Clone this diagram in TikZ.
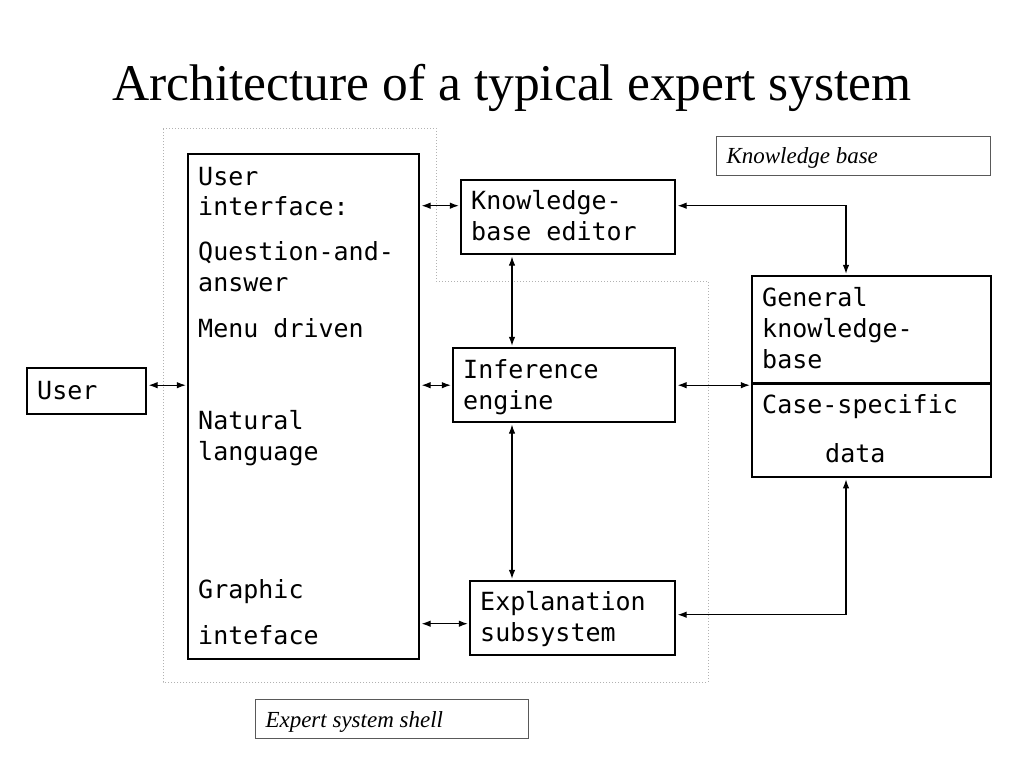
\documentclass[tikz,border=0pt]{standalone}
\usepackage{fontspec}
\setmainfont{Liberation Serif}
\setmonofont{DejaVu Sans Mono}
\usetikzlibrary{positioning,shapes,arrows.meta}

\newcommand{\topstrut}[1]{\rule{0pt}{#1}}
\newcommand{\botstrut}[1]{\rule[-#1]{0pt}{#1}}
\DeclareRobustCommand{\boxfont}{\ttfamily\fontsize{25}{31}\selectfont}

\begin{document}
\begin{tikzpicture}[x=1pt, y=-1pt,
	box/.style={rectangle, draw=black, line width=2.4pt, anchor=north west, align=flush left, inner xsep=10pt, inner ysep=0pt, font=\boxfont},
	tag/.style={rectangle, draw=black!65, line width=1pt, anchor=north west, align=flush left, inner xsep=10pt, inner ysep=0pt, font=\itshape\fontsize{23}{27}\selectfont},
	biarrow/.style={{Latex[length=9pt,width=6.5pt]}-{Latex[length=9pt,width=6.5pt]}, line width=1.1pt, shorten <=1.2pt, shorten >=1.2pt},
	shell/.style={draw=black!30, line width=1pt, dotted}]
	\useasboundingbox (0,0) rectangle (1024,768);
	\fill[white] (0,0) rectangle (1024,768);

	% title
	\node (title) [anchor=base, font=\fontsize{51.5}{60}\selectfont] at (512,100) {Architecture of a typical expert system};

	% expert system shell outline
	\draw[shell] (163,128) -- (436,128) -- (436,281) -- (708,281) -- (708,682) -- (163,682) -- cycle;

	\node (user) [box, text width=99pt, text height=31pt, text depth=15pt] at (26,367) {User};
	\node (ui) [box, text width=211pt] at (187,153)
	{
		\topstrut{31pt}User\\[-1pt]
		interface:\\[14pt]
		Question-and-\\
		answer\\[15pt]
		Menu driven\\[61pt]
		Natural\\
		language\\[107pt]
		Graphic\\[15pt]
		inteface\botstrut{15pt}
	};
	\node (editor) [box, text width=194pt] at (460,179) {\topstrut{29pt}Knowledge-\\base editor\botstrut{14pt}};
	\node (inf) [box, text width=202pt] at (452,347) {\topstrut{30pt}Inference\\engine\botstrut{13pt}};
	\node (expl) [box, text width=185pt] at (469,580) {\topstrut{29pt}Explanation\\subsystem\botstrut{14pt}};
	\node (kb) [box, text width=219pt, rectangle split, rectangle split parts=2] at (751,275)
	{
		\topstrut{29pt}General\\
		knowledge-\\
		base\botstrut{14pt}
		\nodepart{second}
		\topstrut{29pt}Case-specific\\[18pt]
		\hspace*{63pt}data\botstrut{13pt}
	};

	\node (kblabel) [tag, text width=254pt, text height=27pt, text depth=12pt] at (716,136) {Knowledge base};
	\node (shelllabel) [tag, text width=253pt, text height=28pt, text depth=11pt] at (255,699) {Expert system shell};

	% connectors
	\coordinate (vx) at (512,0);
	\coordinate (kx) at (846,0);
	\coordinate (edin) at ([yshift=11.5pt]editor.west);
	\coordinate (edout) at ([yshift=11.5pt]editor.east);
	\coordinate (exin) at ([yshift=-5.5pt]expl.west);
	\coordinate (exout) at ([yshift=3.5pt]expl.east);

	\draw[biarrow] (user.east |- inf.west) -- (ui.west |- inf.west);
	\draw[biarrow] (ui.east |- edin) -- (edin);
	\draw[biarrow] (ui.east |- inf.west) -- (inf.west);
	\draw[biarrow] (ui.east |- exin) -- (exin);
	\draw[biarrow] (editor.south -| vx) -- (inf.north -| vx);
	\draw[biarrow] (inf.south -| vx) -- (expl.north -| vx);
	\draw[biarrow] (inf.east) -- (inf.east -| kb.west);
	\draw[biarrow] (edout) -| (kx |- kb.north);
	\draw[biarrow] (exout) -| (kx |- kb.south);
\end{tikzpicture}
\end{document}
